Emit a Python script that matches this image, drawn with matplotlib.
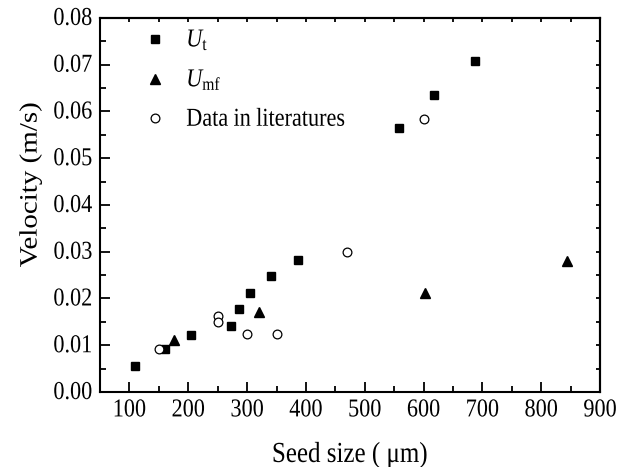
import matplotlib
matplotlib.use("Agg")
import matplotlib.pyplot as plt
from matplotlib.ticker import MultipleLocator, FormatStrFormatter, NullFormatter
from matplotlib.patheffects import AbstractPathEffect
from matplotlib.transforms import Affine2D

plt.rcParams['font.family'] = ['Liberation Serif', 'DejaVu Serif']
plt.rcParams['mathtext.fontset'] = 'custom'
plt.rcParams['mathtext.rm'] = 'Liberation Serif'
plt.rcParams['mathtext.it'] = 'Liberation Serif:italic'

# U_t (terminal velocity)
ut_x = [110, 160, 205, 273, 287, 305, 341, 386, 559, 618, 687]
ut_y = [0.0056, 0.0092, 0.0122, 0.0142, 0.0178, 0.0212, 0.0248, 0.0283, 0.0565, 0.0636, 0.0707]
# U_mf
umf_x = [176, 320, 603, 844]
umf_y = [0.0112, 0.0172, 0.0211, 0.0281]
# data in literatures
lit_x = [150, 250, 250, 300, 350, 470, 600]
lit_y = [0.0092, 0.0163, 0.0149, 0.0125, 0.0125, 0.0300, 0.0583]


# the original text is a bit taller than the font, stretch it on screen
class Tall(AbstractPathEffect):
    def __init__(self, sy=1.16):
        super().__init__()
        self.sy = sy

    def draw_path(self, renderer, gc, tpath, affine, rgbFace=None):
        m = affine.get_matrix()
        x0, y0 = m[0, 2], m[1, 2]
        t = affine + Affine2D().translate(-x0, -y0).scale(1, self.sy).translate(x0, y0)
        renderer.draw_path(gc, tpath, t, rgbFace)


fig = plt.figure(figsize=(6.29, 4.67), dpi=100)
ax = fig.add_axes([0.159, 0.1606, 0.795, 0.801])

ax.plot(ut_x, ut_y, 's', color='black', markersize=5.5, label=r'$U_\mathrm{t}$')
ax.plot(umf_x, umf_y, '^', color='black', markersize=7.5, label=r'$U_\mathrm{mf}$')
ax.plot(lit_x, lit_y, 'o', markerfacecolor='white', markeredgecolor='black',
        markeredgewidth=0.9, markersize=6.3, label=r'$\mathrm{Data\ in\ literatures}$')

ax.set_xlim(50, 900)
ax.set_ylim(0, 0.08)
ax.xaxis.set_major_locator(MultipleLocator(100))
ax.xaxis.set_minor_locator(MultipleLocator(50))
ax.yaxis.set_major_locator(MultipleLocator(0.01))
ax.yaxis.set_minor_locator(MultipleLocator(0.005))
ax.yaxis.set_major_formatter(FormatStrFormatter('%.2f'))
ax.tick_params(which='both', direction='in', labelsize=16, width=1.3)
ax.tick_params(which='major', length=7)
ax.tick_params(which='minor', length=4)
ax.tick_params(axis='x', which='major', pad=7.5)
ax.tick_params(axis='y', which='major', pad=5.5)
for s in ax.spines.values():
    s.set_linewidth(1.5)

# short ticks on top and right
top = ax.secondary_xaxis('top')
top.xaxis.set_major_locator(MultipleLocator(50))
top.xaxis.set_major_formatter(NullFormatter())
top.tick_params(direction='in', length=3, width=1.3)
right = ax.secondary_yaxis('right')
right.yaxis.set_major_locator(MultipleLocator(0.005))
right.yaxis.set_major_formatter(NullFormatter())
right.tick_params(direction='in', length=3, width=1.3)
for s in list(top.spines.values()) + list(right.spines.values()):
    s.set_linewidth(1.5)

ax.set_xlabel('Seed size ( μm)', fontsize=18)
ax.xaxis.set_label_coords(0.5, -0.187)
ax.xaxis.label.set_va('baseline')
ax.set_ylabel('Velocity (m/s)', fontsize=18)
ax.yaxis.set_label_coords(-0.116, 0.524)

leg = ax.legend(loc='upper left', frameon=False, fontsize=16, handletextpad=0.4,
                labelspacing=0.85, borderaxespad=0, bbox_to_anchor=(0.048, 0.99))

fig.canvas.draw()
texts = ax.get_xticklabels() + ax.get_yticklabels() + leg.get_texts()
texts += [ax.xaxis.label, ax.yaxis.label]
for t in texts:
    t.set_path_effects([Tall()])

fig.savefig('out.png', dpi=100)
